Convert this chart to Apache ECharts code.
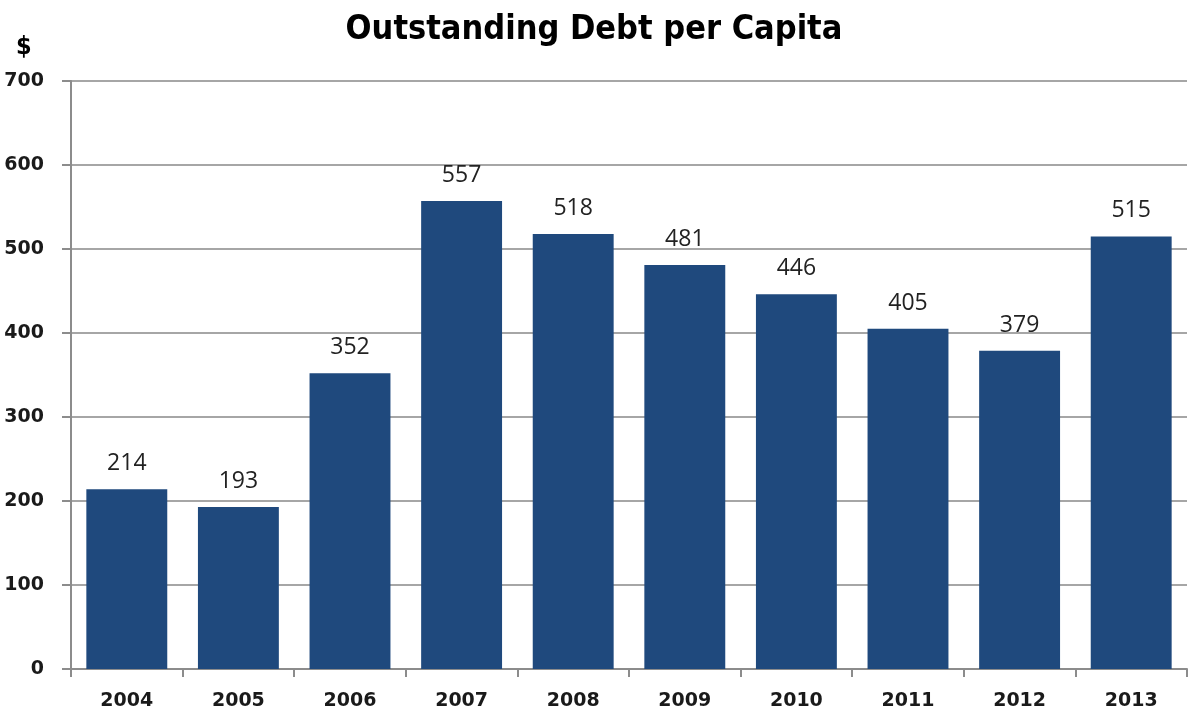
<!DOCTYPE html>
<html>
<head>
<meta charset="utf-8">
<script src="https://cdn.jsdelivr.net/npm/echarts@6/dist/echarts.min.js"></script>
<style>
  html, body { margin: 0; padding: 0; background: #fff; }
  #chart { width: 1188px; height: 719px; }
</style>
</head>
<body>
<div id="chart"></div>
<script>
// values
var years = ['2004', '2005', '2006', '2007', '2008', '2009', '2010', '2011', '2012', '2013'];
var debtPerCapita = [214, 193, 352, 557, 518, 481, 446, 405, 379, 515];
var yTicks = [0, 100, 200, 300, 400, 500, 600, 700];

var chart = echarts.init(document.getElementById('chart'));
var option = {
  backgroundColor: '#fff',
  animation: false,
  title: [
    {
      text: 'Outstanding Debt per Capita',
      left: 'center',
      top: 8,
      textStyle: {
        fontFamily: '"DejaVu Sans Condensed", sans-serif',
        fontWeight: 'bold',
        fontSize: 34,
        color: '#000'
      }
    },
    {
      text: '$',
      left: 11,
      top: 30,
      textStyle: {
        fontFamily: '"DejaVu Sans Condensed", sans-serif',
        fontWeight: 'bold',
        fontSize: 25,
        color: '#000'
      }
    }
  ],
  grid: { left: 71, right: 1, top: 81, bottom: 50, containLabel: false },
  xAxis: {
    type: 'category',
    data: years,
    axisLine: { lineStyle: { color: '#8c8c8c', width: 2 } },
    axisTick: { show: true, length: 8, lineStyle: { color: '#8c8c8c', width: 2 } },
    axisLabel: {
      margin: 23,
      fontFamily: '"DejaVu Sans", sans-serif',
      fontWeight: 'bold',
      fontSize: 19,
      color: '#1a1a1a'
    }
  },
  yAxis: {
    type: 'value',
    min: yTicks[0],
    max: yTicks[yTicks.length - 1],
    interval: 100,
    axisLine: { show: true, lineStyle: { color: '#8c8c8c', width: 2 } },
    axisTick: { show: true, length: 9, lineStyle: { color: '#8c8c8c', width: 2 } },
    axisLabel: {
      margin: 27,
      fontFamily: '"DejaVu Sans", sans-serif',
      fontWeight: 'bold',
      fontSize: 19,
      color: '#1a1a1a'
    },
    splitLine: { lineStyle: { color: '#a6a6a6', width: 2 } }
  },
  series: [{
    type: 'bar',
    data: debtPerCapita,
    barWidth: '72.5%',
    itemStyle: { color: '#1f497d' },
    label: {
      show: true,
      position: 'top',
      distance: 14,
      fontFamily: '"Open Sans", sans-serif',
      fontSize: 23,
      color: '#222'
    }
  }]
};
chart.setOption(option);
</script>
</body>
</html>
